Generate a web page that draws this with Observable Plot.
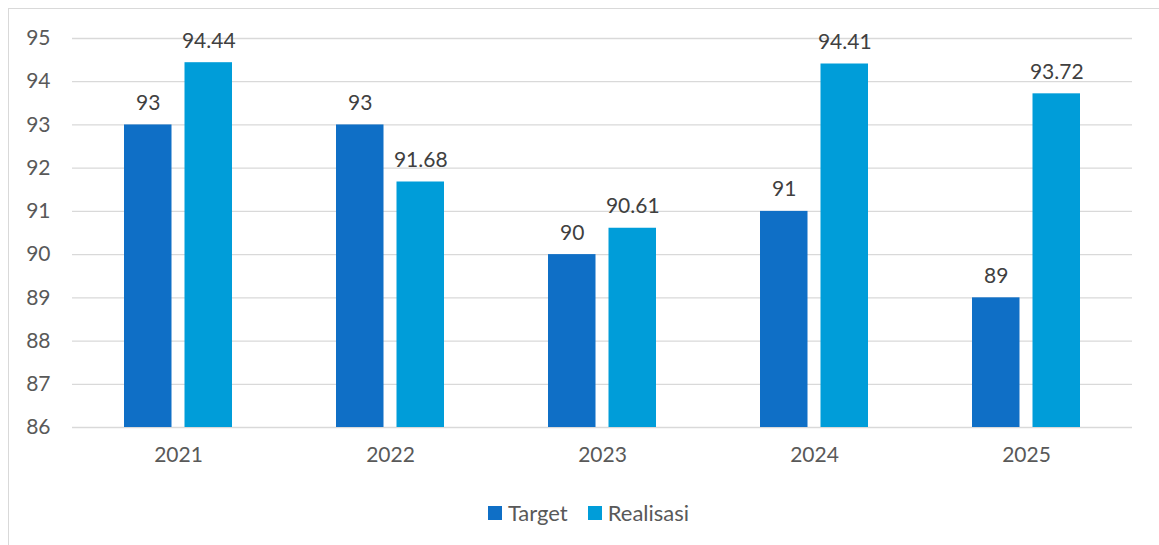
<!DOCTYPE html>
<html>
<head>
<meta charset="utf-8">
<script src="https://cdn.jsdelivr.net/npm/d3@7"></script>
<script src="https://cdn.jsdelivr.net/npm/@observablehq/plot@0.6"></script>
<style>
  html, body { margin: 0; padding: 0; background: #fff; width: 1159px; height: 545px; overflow: hidden; }
  #frame { position: absolute; left: 8px; top: 8px; width: 1200px; height: 600px; border: 1px solid #d9d9d9; box-sizing: border-box; }
  #chart { position: absolute; left: 0; top: 0; }
  #legend { position: absolute; left: 0; top: 499px; width: 1159px; display: flex; justify-content: center; gap: 20px; font-family: Lato, "Open Sans", sans-serif; font-size: 22px; color: #595959; transform: translateX(9px); }
  .item { display: flex; align-items: center; gap: 6px; }
  .sw { width: 14px; height: 14px; display: inline-block; }
</style>
</head>
<body>
<div id="frame"></div>
<div id="chart"></div>
<div id="legend"></div>
<script>
const years = ["2021", "2022", "2023", "2024", "2025"];
const target = [93, 93, 90, 91, 89];
const realisasi = [94.44, 91.68, 90.61, 94.41, 93.72];
const yTicks = [86, 87, 88, 89, 90, 91, 92, 93, 94, 95];
const seriesNames = ["Target", "Realisasi"];
const colors = ["#0F6FC6", "#009DD9"];

const tData = years.map((y, i) => ({year: y, value: target[i]}));
const rData = years.map((y, i) => ({year: y, value: realisasi[i]}));

const W = 1159, H = 480;
const barW = 47.5, groupW = 108;
const off = (groupW - barW) / 2;

const plot = Plot.plot({
  width: W,
  height: H,
  marginLeft: 72,
  marginRight: 27,
  marginTop: 38,
  marginBottom: 53,
  style: { fontFamily: "Lato, 'Open Sans', sans-serif", fontSize: "21px", color: "#595959", background: "transparent" },
  x: { type: "band", domain: years, paddingInner: 0.49, paddingOuter: 0.245, label: null, tickSize: 0, tickPadding: 20 },
  y: { domain: [86, 95], ticks: yTicks, label: null, tickSize: 0, tickPadding: 22, tickFormat: d => String(d) },
  marks: [
    Plot.ruleY(yTicks, { stroke: "#d9d9d9", strokeWidth: 1.3 }),
    Plot.barY(tData, { x: "year", y1: 86, y2: "value", fill: colors[0], insetRight: groupW - barW }),
    Plot.barY(rData, { x: "year", y1: 86, y2: "value", fill: colors[1], insetLeft: groupW - barW }),
    Plot.text(tData, { x: "year", y: "value", text: d => String(d.value), dx: -off, dy: -15, lineAnchor: "bottom", fill: "#404040", fontSize: 21 }),
    Plot.text(rData, { x: "year", y: "value", text: d => d.value.toFixed(2), dx: off, dy: -15, lineAnchor: "bottom", fill: "#404040", fontSize: 21 })
  ]
});
document.getElementById("chart").appendChild(plot);

const legend = document.getElementById("legend");
seriesNames.forEach((name, i) => {
  const it = document.createElement("div");
  it.className = "item";
  const sw = document.createElement("span");
  sw.className = "sw";
  sw.style.background = colors[i];
  const lb = document.createElement("span");
  lb.textContent = name;
  it.appendChild(sw); it.appendChild(lb);
  legend.appendChild(it);
});
</script>
</body>
</html>
